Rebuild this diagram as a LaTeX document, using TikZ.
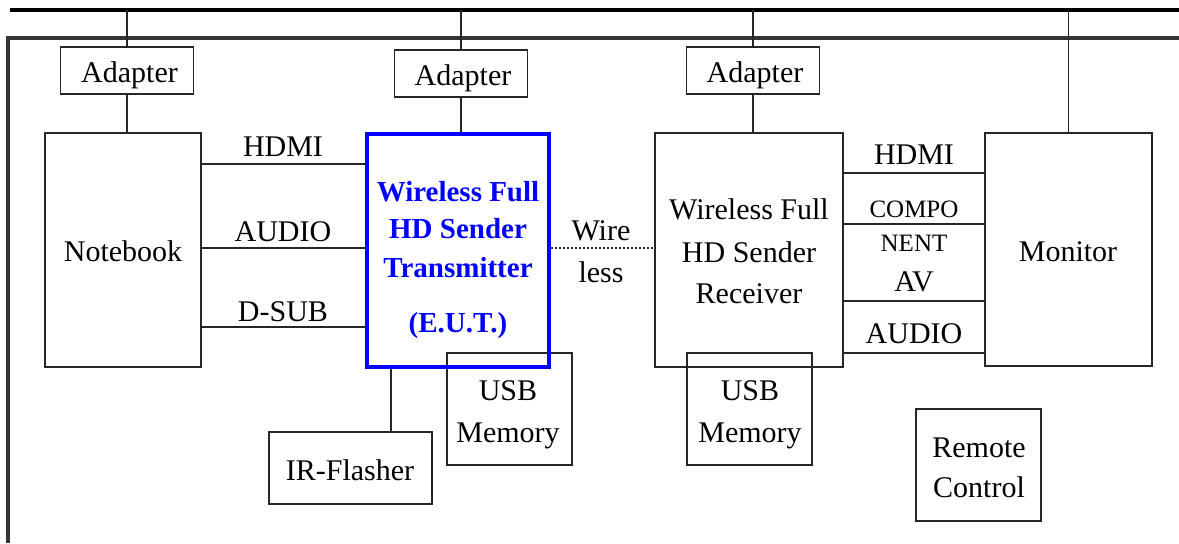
\documentclass[tikz,border=0pt]{standalone}
\usepackage{fontspec}
\setmainfont{Liberation Serif}
\begin{document}
\begin{tikzpicture}[x=0.5pt,y=-0.5pt,
  bx/.style 2 args={draw=black!85,line width=0.65pt,inner sep=0pt,minimum width=#1*0.5pt,minimum height=#2*0.5pt},
  t/.style={anchor=base,inner sep=0pt,font=\fontsize{15}{18}\selectfont},
  ts/.style={anchor=base,inner sep=0pt,font=\fontsize{12.5}{15}\selectfont},
  tb/.style={anchor=base,inner sep=0pt,font=\fontsize{14.5}{18}\selectfont\bfseries,text=blue},
  ln/.style={draw=black!85,line width=0.65pt}]
\useasboundingbox (0,0) rectangle (1179,543);
% frame lines
\coordinate (tl) at (10,10);
\coordinate (tr) at (1179,10);
\coordinate (fb) at (8,543);
\coordinate (fc) at (8,38);
\coordinate (fr) at (1179,38);
\draw[line width=1.9pt] (tl) -- (tr);
\draw[line width=1.6pt,black!80] (fb) -- (fc) -- (fr);
% boxes
\node[bx={133}{47}] (ad1) at (127,70.5) {};
\node[bx={133}{47}] (ad2) at (461,73.5) {};
\node[bx={133}{47}] (ad3) at (753,70.5) {};
\node[bx={156}{234}] (nb) at (123,250) {};
\node[bx={125}{112}] (usb1) at (509.5,409) {};
\node[bx={125}{112}] (usb2) at (749.5,409) {};
\node[bx={182}{233},draw=blue,line width=1.7pt] (tx) at (458,250.5) {};
\node[bx={188}{234}] (rx) at (749,250) {};
\node[bx={167}{233}] (mon) at (1068.5,249.5) {};
\node[bx={163}{72}] (ir) at (350.5,468) {};
\node[bx={125}{112}] (rc) at (978.5,465) {};
% vertical connectors
\draw[ln] (ad1.north) -- (ad1.north |- tl);
\draw[ln] (ad2.north) -- (ad2.north |- tl);
\draw[ln] (ad3.north) -- (ad3.north |- tl);
\draw[ln] (mon.north) -- (mon.north |- tl);
\draw[ln] (ad1.south) -- (ad1.south |- nb.north);
\draw[ln] (ad2.south) -- (ad2.south |- tx.north);
\draw[ln] (ad3.south) -- (ad3.south |- rx.north);
\coordinate (irx) at (391,0);
\draw[ln] (irx |- tx.south) -- (irx |- ir.north);
% horizontal connectors
\coordinate (h1) at (0,164);
\coordinate (h2) at (0,248);
\coordinate (h3) at (0,327);
\draw[ln] (h1 -| nb.east) -- (h1 -| tx.west);
\draw[ln] (h2 -| nb.east) -- (h2 -| tx.west);
\draw[ln] (h3 -| nb.east) -- (h3 -| tx.west);
\draw[ln,dash pattern=on 1pt off 1pt] (h2 -| tx.east) -- (h2 -| rx.west);
\coordinate (r1) at (0,173);
\coordinate (r2) at (0,224);
\coordinate (r3) at (0,301);
\coordinate (r4) at (0,353);
\draw[ln] (r1 -| rx.east) -- (r1 -| mon.west);
\draw[ln] (r2 -| rx.east) -- (r2 -| mon.west);
\draw[ln] (r3 -| rx.east) -- (r3 -| mon.west);
\draw[ln] (r4 -| rx.east) -- (r4 -| mon.west);
% texts
\node[t] (tad1) at (129.5,82) {Adapter};
\node[t] (tad2) at (463,85) {Adapter};
\node[t] (tad3) at (755,82) {Adapter};
\node[t] (tnb) at (123,261) {Notebook};
\node[t] (tmon) at (1068,261) {Monitor};
\node[t] (lh1) at (283,156) {HDMI};
\node[t] (lh2) at (283,241) {AUDIO};
\node[t] (lh3) at (283,321) {D-SUB};
\node[t] (lw1) at (601,240) {Wire};
\node[t] (lw2) at (601,282) {less};
\node[tb] (tx1) at (458,201) {Wireless Full};
\node[tb] (tx2) at (458,238) {HD Sender};
\node[tb] (tx3) at (458,277) {Transmitter};
\node[tb] (tx4) at (458,332) {(E.U.T.)};
\node[t] (rx1) at (749,219) {Wireless Full};
\node[t] (rx2) at (749,262) {HD Sender};
\node[t] (rx3) at (749,303) {Receiver};
\node[t] (lr1) at (914,164) {HDMI};
\node[ts] (lr2) at (914,217) {COMPO};
\node[ts] (lr3) at (914,251) {NENT};
\node[t] (lr4) at (914,291) {AV};
\node[t] (lr5) at (914,343) {AUDIO};
\node[t] (tu1a) at (508,400) {USB};
\node[t] (tu1b) at (508,442) {Memory};
\node[t] (tu2a) at (750,400) {USB};
\node[t] (tu2b) at (750,442) {Memory};
\node[t] (tir) at (350,480) {IR-Flasher};
\node[t] (trc1) at (979,457) {Remote};
\node[t] (trc2) at (979,497) {Control};
\end{tikzpicture}
\end{document}
